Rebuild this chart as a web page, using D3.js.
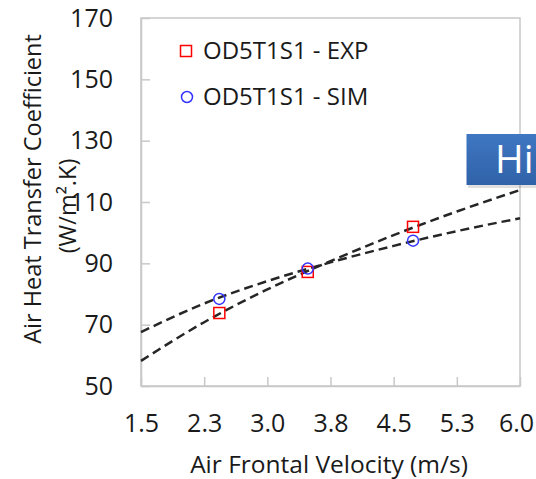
<!DOCTYPE html>
<html>
<head>
<meta charset="utf-8">
<title>Air Heat Transfer Coefficient</title>
<script src="https://cdnjs.cloudflare.com/ajax/libs/d3/7.8.5/d3.min.js"></script>
<style>
  body { margin: 0; background: #fff; }
  text { font-family: "Open Sans", "Noto Sans", sans-serif; fill: #1a1a1a; }
</style>
</head>
<body>
<svg id="chart"></svg>
<script>
// measured points
var velocity = [2.43, 3.48, 4.73];
var expValues = [73.8, 87.2, 101.9];
var simValues = [78.4, 88.3, 97.4];

// dashed trendlines at the x ticks
var trendX = [1.5, 2.25, 3.0, 3.75, 4.5, 5.25, 6.0];
var expTrend = [58.2, 70.8, 81.5, 90.7, 99.2, 106.9, 113.9];
var simTrend = [67.6, 76.9, 84.2, 90.3, 95.7, 100.5, 104.7];

var xTicks = [1.5, 2.25, 3.0, 3.75, 4.5, 5.25, 6.0];
var xTickLabels = ["1.5", "2.3", "3.0", "3.8", "4.5", "5.3", "6.0"];
var yTicks = [50, 70, 90, 110, 130, 150, 170];
var seriesNames = ["OD5T1S1 - EXP", "OD5T1S1 - SIM"];

var W = 536, H = 479;
var margin = {top: 18, right: 16, bottom: 93, left: 141};
var width = W - margin.left - margin.right;
var height = H - margin.top - margin.bottom;

var svg = d3.select("#chart").attr("width", W).attr("height", H);
var chart = svg.append("g").attr("transform", "translate(" + margin.left + "," + margin.top + ")");

var x = d3.scaleLinear().domain([1.5, 6.0]).range([0, width]);
var y = d3.scaleLinear().domain([50, 170]).range([height, 0]);

// frame
chart.append("rect").attr("width", width).attr("height", height)
  .attr("fill", "none").attr("stroke", "#c8c8c8").attr("stroke-width", 1.5);

var xAxis = d3.axisBottom(x).tickValues(xTicks).tickSizeInner(-9).tickSizeOuter(0).tickPadding(28)
  .tickFormat(function(d, i) { return xTickLabels[i]; });
var yAxis = d3.axisLeft(y).tickValues(yTicks).tickSizeInner(-9).tickSizeOuter(0).tickPadding(28);

var gx = chart.append("g").attr("transform", "translate(0," + height + ")").call(xAxis);
var gy = chart.append("g").call(yAxis);
[gx, gy].forEach(function(g) {
  g.attr("font-family", null);
  g.select(".domain").attr("stroke", "#c8c8c8").attr("stroke-width", 1.5);
  g.selectAll(".tick line").attr("stroke", "#c8c8c8").attr("stroke-width", 1.5);
  g.selectAll(".tick text").attr("font-size", 25).attr("fill", "#1a1a1a");
});
// keep the last x label inside the page
gx.selectAll(".tick text").filter(function(d) { return d === 6.0; }).attr("dx", -4);

// trendlines
var line = d3.line().x(function(d) { return x(d[0]); }).y(function(d) { return y(d[1]); })
  .curve(d3.curveMonotoneX);
[expTrend, simTrend].forEach(function(t) {
  chart.append("path")
    .datum(trendX.map(function(v, i) { return [v, t[i]]; }))
    .attr("d", line)
    .attr("fill", "none").attr("stroke", "#262626").attr("stroke-width", 2.5)
    .attr("stroke-dasharray", "9,5");
});

// markers
chart.selectAll(".exp").data(velocity).enter().append("rect")
  .attr("x", function(d) { return x(d) - 5.5; })
  .attr("y", function(d, i) { return y(expValues[i]) - 5.5; })
  .attr("width", 11).attr("height", 11)
  .attr("fill", "none").attr("stroke", "#ff0000").attr("stroke-width", 1.5);
chart.selectAll(".sim").data(velocity).enter().append("circle")
  .attr("cx", function(d) { return x(d); })
  .attr("cy", function(d, i) { return y(simValues[i]); })
  .attr("r", 5.5)
  .attr("fill", "none").attr("stroke", "#3333ff").attr("stroke-width", 1.5);

// legend
var legend = svg.append("g");
legend.append("rect").attr("x", 180.5).attr("y", 45.5).attr("width", 11).attr("height", 11)
  .attr("fill", "none").attr("stroke", "#ff0000").attr("stroke-width", 1.5);
legend.append("circle").attr("cx", 187).attr("cy", 97).attr("r", 5.5)
  .attr("fill", "none").attr("stroke", "#3333ff").attr("stroke-width", 1.5);
legend.selectAll("text").data(seriesNames).enter().append("text")
  .attr("x", 203).attr("y", function(d, i) { return 51 + i * 46; })
  .attr("dy", "0.35em").attr("font-size", 24).text(function(d) { return d; });

// axis titles
svg.append("text").attr("x", 329).attr("y", 464).attr("dy", "0.35em")
  .attr("text-anchor", "middle").attr("font-size", 24.5).text("Air Frontal Velocity (m/s)");
svg.append("text").attr("transform", "translate(33,189) rotate(-90)").attr("dy", "0.35em")
  .attr("text-anchor", "middle").attr("font-size", 23.5).text("Air Heat Transfer Coefficient");
svg.append("text").attr("transform", "translate(68,206) rotate(-90)").attr("dy", "0.35em")
  .attr("text-anchor", "middle").attr("font-size", 23.5).text("(W/m².K)");

// slide overlay box
var defs = svg.append("defs");
var grad = defs.append("linearGradient").attr("id", "boxg").attr("x1", 0).attr("y1", 0).attr("x2", 0).attr("y2", 1);
grad.append("stop").attr("offset", "0%").attr("stop-color", "#4077c2");
grad.append("stop").attr("offset", "100%").attr("stop-color", "#2f62a8");
svg.append("rect").attr("x", 468).attr("y", 137).attr("width", 80).attr("height", 51)
  .attr("fill", "#000").attr("opacity", 0.12);
svg.append("rect").attr("x", 466.5).attr("y", 134).attr("width", 80).attr("height", 51)
  .attr("fill", "url(#boxg)");
svg.append("text").attr("x", 495).attr("y", 173).attr("font-size", 39)
  .style("fill", "#ffffff").text("Hi");
</script>
</body>
</html>
